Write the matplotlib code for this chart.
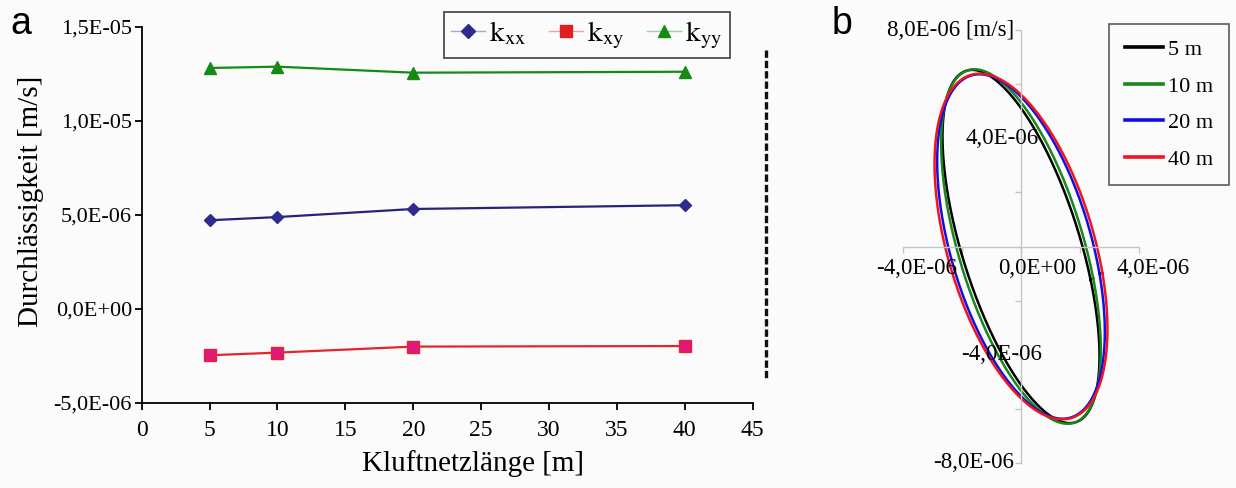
import numpy as np
import matplotlib
matplotlib.use("Agg")
import matplotlib.pyplot as plt
from matplotlib.lines import Line2D

plt.rcParams["font.family"] = ["Liberation Serif", "DejaVu Serif"]
plt.rcParams["mathtext.fontset"] = "stix"

# fracture-network length [m]
lengths = [5, 10, 20, 40]
# permeability tensor components [m/s]
k_xx = [4.72e-6, 4.89e-6, 5.32e-6, 5.52e-6]
k_xy = [-2.46e-6, -2.32e-6, -2.00e-6, -1.97e-6]
k_yy = [12.82e-6, 12.89e-6, 12.57e-6, 12.62e-6]

left_yticks = [-5e-6, 0.0, 5e-6, 1e-5, 1.5e-5]
left_yticklabels = ["-5,0E-06", "0,0E+00", "5,0E-06", "1,0E-05", "1,5E-05"]
left_xticks = [0, 5, 10, 15, 20, 25, 30, 35, 40, 45]

ell_labels = ["5 m", "10 m", "20 m", "40 m"]
ell_colors = ["#000000", "#17891a", "#1010e6", "#f0141e"]

BG = "#fbfbfb"
fig = plt.figure(figsize=(12.36, 4.88), dpi=100, facecolor=BG)

# ---------- panel a: tensor components vs. length ----------
ax = fig.add_axes([141.7 / 1236, 85 / 488, 611 / 1236, 376 / 488], facecolor=BG)
c_xx, c_xy, c_yy = "#26237c", "#e3262e", "#158a15"
ax.plot(lengths, k_xx, color=c_xx, lw=1.6, marker="D", ms=6, mfc="#2d2b8e", mec="#2d2b8e")
ax.plot(lengths, k_xy, color=c_xy, lw=1.6, marker="s", ms=8, mfc="#e0187a", mec="#e3262e")
ax.plot(lengths, k_yy, color=c_yy, lw=1.6, marker="^", ms=8, mfc=c_yy, mec=c_yy)

ax.set_xlim(0, 45)
ax.set_ylim(-5e-6, 1.5e-5)
ax.set_xticks(left_xticks)
ax.set_yticks(left_yticks)
ax.set_yticklabels(left_yticklabels)
for s in ("top", "right"):
    ax.spines[s].set_visible(False)
for s in ("left", "bottom"):
    ax.spines[s].set_linewidth(1.3)
ax.tick_params(direction="out", length=5, width=1.3, labelsize=16, pad=2)
ax.tick_params(axis="x", labelsize=17, pad=7)
ax.set_xlabel("Kluftnetzlänge [m]", fontsize=21)
ax.xaxis.set_label_coords(0.542, -0.125)
ax.set_ylabel("Durchlässigkeit [m/s]", fontsize=21)
ax.yaxis.set_label_coords(-0.16, 0.537)

handles = [
    Line2D([], [], color="#a9a8cf", lw=1, marker="D", ms=7, mfc="#2d2b8e", mec="#2d2b8e"),
    Line2D([], [], color="#f0a0a0", lw=1, marker="s", ms=9, mfc="#e02020", mec="#e02020"),
    Line2D([], [], color="#9fcf9f", lw=1, marker="^", ms=9, mfc=c_yy, mec=c_yy),
]
leg = ax.legend(handles, [r"$\mathrm{k}_{\mathrm{xx}}$", r"$\mathrm{k}_{\mathrm{xy}}$",
                          r"$\mathrm{k}_{\mathrm{yy}}$"],
                ncol=3, loc="upper left", bbox_to_anchor=(302 / 611, 1.04),
                fontsize=21, frameon=True, fancybox=False, edgecolor="#222222",
                handlelength=1.15, handletextpad=0.15, columnspacing=0.8,
                borderpad=0.25, borderaxespad=0.0)
leg.get_frame().set_linewidth(1.3)
leg.get_frame().set_facecolor(BG)

fig.text(10 / 1236, 1 - 24 / 488, "a", family="Liberation Sans", fontsize=27, va="center")

# dashed separator between the panels
fig.add_artist(Line2D([766 / 1236, 766 / 1236], [1 - 50 / 488, 1 - 380 / 488],
                      color="#111111", lw=2.4, ls=(0, (2.2, 0.9))))

# ---------- panel b: tensor ellipses ----------
bx = fig.add_axes([903 / 1236, 25 / 488, 236 / 1236, 433 / 488], facecolor="none")
theta = np.linspace(0, 2 * np.pi, 400)
for kxx, kxy, kyy, lab, col in zip(k_xx, k_xy, k_yy, ell_labels, ell_colors):
    ex = 0.5 * (kxx * np.cos(theta) + kxy * np.sin(theta))
    ey = 0.5 * (kxy * np.cos(theta) + kyy * np.sin(theta))
    bx.plot(ex, ey, color=col, lw=1.8, label=lab, clip_on=False)

bx.set_xlim(-4e-6, 4e-6)
bx.set_ylim(-8e-6, 8e-6)
for s in ("top", "right"):
    bx.spines[s].set_visible(False)
for s in ("left", "bottom"):
    bx.spines[s].set_position(("data", 0))
    bx.spines[s].set_color("#c4c4c4")
    bx.spines[s].set_linewidth(1.0)
bx.set_xticks(np.arange(-4e-6, 4.1e-6, 2e-6))
bx.set_yticks(np.arange(-8e-6, 8.1e-6, 2e-6))
bx.tick_params(direction="out", length=4, width=1.0, color="#c4c4c4",
               labelbottom=False, labelleft=False)

right_xticklabels = [(-4e-6, "-4,0E-06", 10), (0.0, "0,0E+00", 12), (4e-6, "4,0E-06", 10)]
for v, t, dx in right_xticklabels:
    bx.annotate(t, (v, 0), xytext=(dx, -8), textcoords="offset points",
                ha="center", va="top", fontsize=16.5)
right_yticklabels = [(8e-6, "8,0E-06 [m/s]", -5), (4e-6, "4,0E-06", 13),
                     (-4e-6, "-4,0E-06", 15), (-8e-6, "-8,0E-06", -5)]
for v, t, dx in right_yticklabels:
    bx.annotate(t, (0, v), xytext=(dx, 0), textcoords="offset points",
                ha="right", va="center", fontsize=16.5)

leg2 = bx.legend(loc="upper left", bbox_to_anchor=(1109 / 1236, 1 - 24 / 488),
                 bbox_transform=fig.transFigure, fontsize=16, frameon=True,
                 fancybox=False, edgecolor="#333333", handlelength=1.75,
                 handletextpad=0.2, labelspacing=0.72, borderpad=0.7,
                 borderaxespad=0.0)
leg2.get_frame().set_linewidth(1.2)
leg2.get_frame().set_facecolor(BG)
for ln in leg2.get_lines():
    ln.set_linewidth(2.6)

fig.text(832 / 1236, 1 - 24 / 488, "b", family="Liberation Sans", fontsize=27, va="center")

fig.savefig("out.png", dpi=100, facecolor=BG)
